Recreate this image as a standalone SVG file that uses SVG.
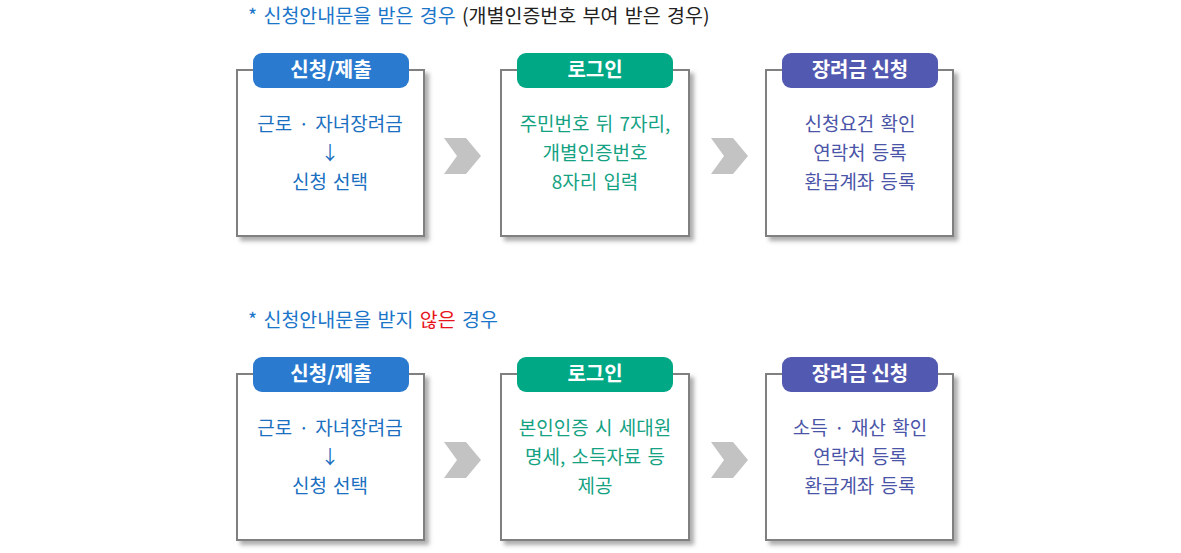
<svg xmlns="http://www.w3.org/2000/svg" width="1181" height="553" viewBox="0 0 1181 553">
<defs>
<filter id="sh" x="-10%" y="-10%" width="125%" height="125%">
<feDropShadow dx="4" dy="4" stdDeviation="2" flood-color="#777" flood-opacity="0.6"/>
</filter>
<style>
text{font-family:"Noto Sans CJK KR","Noto Sans",sans-serif;}
.hd{font-size:19.5px;word-spacing:2px;}
.box{fill:#fff;stroke:#808080;stroke-width:2;filter:url(#sh);}
.pill{stroke:none;}
.pl{font-size:20px;font-weight:bold;fill:#fff;text-anchor:middle;}
.bt{font-size:19px;text-anchor:middle;word-spacing:2px;}
.blue{fill:#2a7bd0;}
.green{fill:#00a886;}
.purple{fill:#5259b0;}
.tb{fill:#1a6fc0;}
.tg{fill:#14a283;}
.tp{fill:#4b55a8;}
.chev{fill:#c3c3c3;}
</style>
</defs>
<rect width="1181" height="553" fill="#fff"/>
<text class="hd" x="248" y="23"><tspan fill="#1b76c9">* 신청안내문을 받은 경우</tspan><tspan fill="#222"> (개별인증번호 부여 받은 경우)</tspan></text>
<text class="hd" x="248" y="327"><tspan fill="#1b76c9">* 신청안내문을 받지 </tspan><tspan fill="#e8141c">않은</tspan><tspan fill="#1b76c9"> 경우</tspan></text>

<g id="connectors">
<polygon class="chev" points="444,138 466,138 481,156 466,174 444,174 457,156"/>
<polygon class="chev" points="711,138 733,138 748,156 733,174 711,174 724,156"/>
<polygon class="chev" points="444,442 466,442 481,460 466,478 444,478 457,460"/>
<polygon class="chev" points="711,442 733,442 748,460 733,478 711,478 724,460"/>
</g>

<g id="n1">
<rect class="box" x="237" y="70" width="187" height="166"/>
<rect class="pill blue" x="253" y="53" width="156" height="35" rx="9"/>
<text class="pl" x="331" y="77">신청/제출</text>
<text class="bt tb" x="330" y="131">근로 · 자녀장려금</text>
<text class="bt tb" x="330" y="160">↓</text>
<text class="bt tb" x="330" y="189">신청 선택</text>
</g>
<g id="n2">
<rect class="box" x="501" y="70" width="188" height="166"/>
<rect class="pill green" x="517" y="53" width="156" height="35" rx="9"/>
<text class="pl" x="595" y="77">로그인</text>
<text class="bt tg" x="595" y="131">주민번호 뒤 7자리,</text>
<text class="bt tg" x="595" y="160">개별인증번호</text>
<text class="bt tg" x="595" y="189">8자리 입력</text>
</g>
<g id="n3">
<rect class="box" x="766" y="70" width="187" height="166"/>
<rect class="pill purple" x="782" y="53" width="156" height="35" rx="9"/>
<text class="pl" x="860" y="77">장려금 신청</text>
<text class="bt tp" x="860" y="131">신청요건 확인</text>
<text class="bt tp" x="860" y="160">연락처 등록</text>
<text class="bt tp" x="860" y="189">환급계좌 등록</text>
</g>

<g id="n4">
<rect class="box" x="237" y="374" width="187" height="166"/>
<rect class="pill blue" x="253" y="357" width="156" height="35" rx="9"/>
<text class="pl" x="331" y="381">신청/제출</text>
<text class="bt tb" x="330" y="435">근로 · 자녀장려금</text>
<text class="bt tb" x="330" y="464">↓</text>
<text class="bt tb" x="330" y="493">신청 선택</text>
</g>
<g id="n5">
<rect class="box" x="501" y="374" width="188" height="166"/>
<rect class="pill green" x="517" y="357" width="156" height="35" rx="9"/>
<text class="pl" x="595" y="381">로그인</text>
<text class="bt tg" x="595" y="435">본인인증 시 세대원</text>
<text class="bt tg" x="595" y="464">명세, 소득자료 등</text>
<text class="bt tg" x="595" y="493">제공</text>
</g>
<g id="n6">
<rect class="box" x="766" y="374" width="187" height="166"/>
<rect class="pill purple" x="782" y="357" width="156" height="35" rx="9"/>
<text class="pl" x="860" y="381">장려금 신청</text>
<text class="bt tp" x="860" y="435">소득 · 재산 확인</text>
<text class="bt tp" x="860" y="464">연락처 등록</text>
<text class="bt tp" x="860" y="493">환급계좌 등록</text>
</g>
</svg>
